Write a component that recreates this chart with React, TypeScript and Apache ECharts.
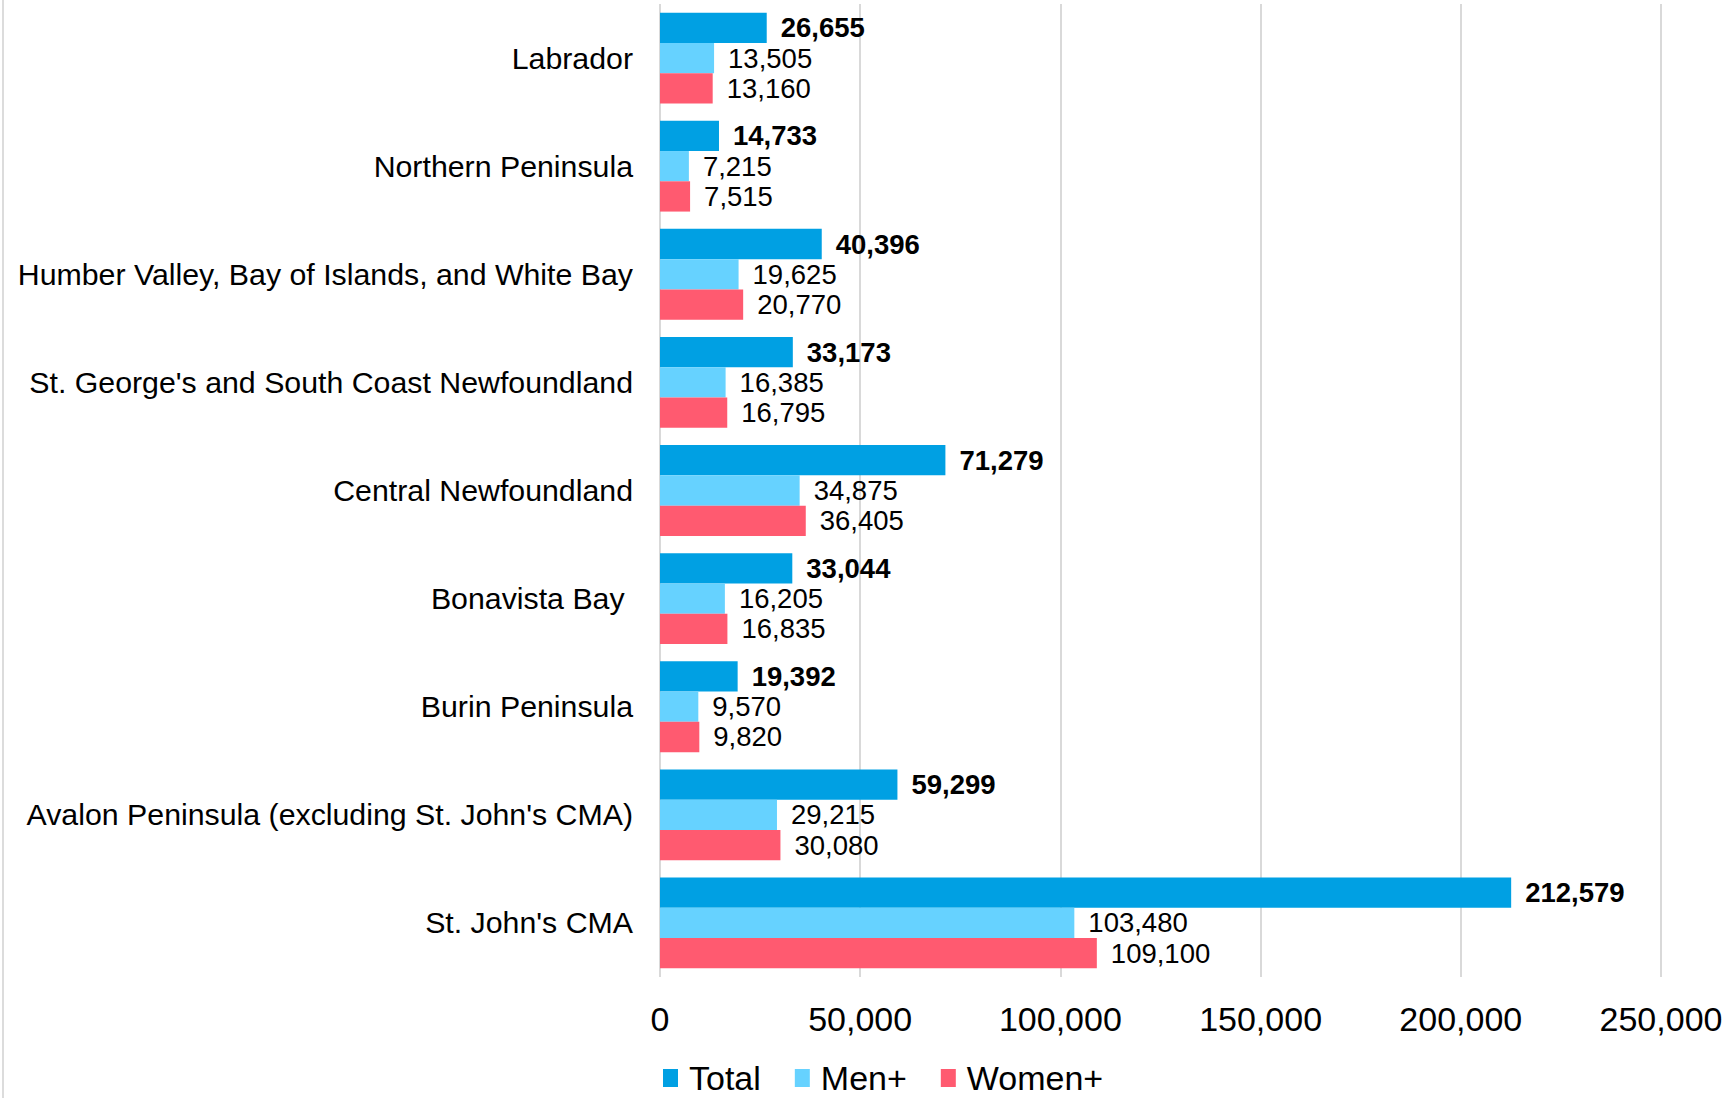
import React, { useEffect, useRef } from "react";
import * as echarts from "echarts";

const categories = [
  "Labrador",
  "Northern Peninsula",
  "Humber Valley, Bay of Islands, and White Bay",
  "St. George's and South Coast Newfoundland",
  "Central Newfoundland",
  "Bonavista Bay ",
  "Burin Peninsula",
  "Avalon Peninsula (excluding St. John's CMA)",
  "St. John's CMA",
];
const totalValues = [26655, 14733, 40396, 33173, 71279, 33044, 19392, 59299, 212579];
const menValues = [13505, 7215, 19625, 16385, 34875, 16205, 9570, 29215, 103480];
const womenValues = [13160, 7515, 20770, 16795, 36405, 16835, 9820, 30080, 109100];
const seriesNames = ["Total", "Men+", "Women+"];
const xTicks = [0, 50000, 100000, 150000, 200000, 250000];

const fmt = (v: number) => v.toLocaleString("en-US");
const FONT = "Liberation Sans, Arial, sans-serif";

export default function App() {
  const ref = useRef<HTMLDivElement>(null);
  useEffect(() => {
    if (!ref.current) return;
    const chart = echarts.init(ref.current, null, { renderer: "svg" });
    const colors = ["#00A0E3", "#66D2FF", "#FF5A70"];
    const data = [totalValues, menValues, womenValues];
    chart.setOption({
      animation: false,
      backgroundColor: "#ffffff",
      textStyle: { fontFamily: FONT, color: "#000" },
      grid: { left: 660, right: 72, top: 4, bottom: 121, containLabel: false },
      legend: {
        left: 658,
        top: 1056,
        icon: "rect",
        itemWidth: 15,
        itemHeight: 18,
        itemGap: 34,
        data: seriesNames,
        textStyle: { fontSize: 34, color: "#000", fontFamily: FONT, padding: [0, 0, 0, 6] },
      },
      xAxis: {
        type: "value",
        min: xTicks[0],
        max: xTicks[xTicks.length - 1],
        interval: 50000,
        axisLine: { show: false },
        axisTick: { show: false },
        splitLine: { show: true, lineStyle: { color: "#d9d9d9", width: 2 } },
        axisLabel: {
          fontSize: 34,
          color: "#000",
          margin: 25,
          fontFamily: FONT,
          formatter: (v: number) => fmt(v),
        },
      },
      yAxis: {
        type: "category",
        inverse: true,
        data: categories,
        axisLine: { show: false },
        axisTick: { show: false },
        axisLabel: { fontSize: 30.3, color: "#000", margin: 27, fontFamily: FONT },
      },
      graphic: [
        {
          type: "line",
          shape: { x1: 3, y1: 0, x2: 3, y2: 1098 },
          style: { stroke: "#d0d0d0", lineWidth: 1.5 },
        },
      ],
      series: seriesNames.map((name, i) => ({
        name,
        type: "bar",
        data: data[i],
        barGap: "0%",
        barCategoryGap: "16%",
        itemStyle: { color: colors[i] },
        label: {
          show: true,
          position: "right",
          distance: 14,
          fontSize: 27.5,
          fontWeight: i === 0 ? "bold" : "normal",
          color: "#000",
          fontFamily: FONT,
          formatter: (p: any) => fmt(p.value),
        },
      })),
    });
    return () => chart.dispose();
  }, []);
  return (
    <div
      ref={ref}
      style={{ position: "absolute", left: 0, top: 0, width: 1733, height: 1098 }}
    />
  );
}
